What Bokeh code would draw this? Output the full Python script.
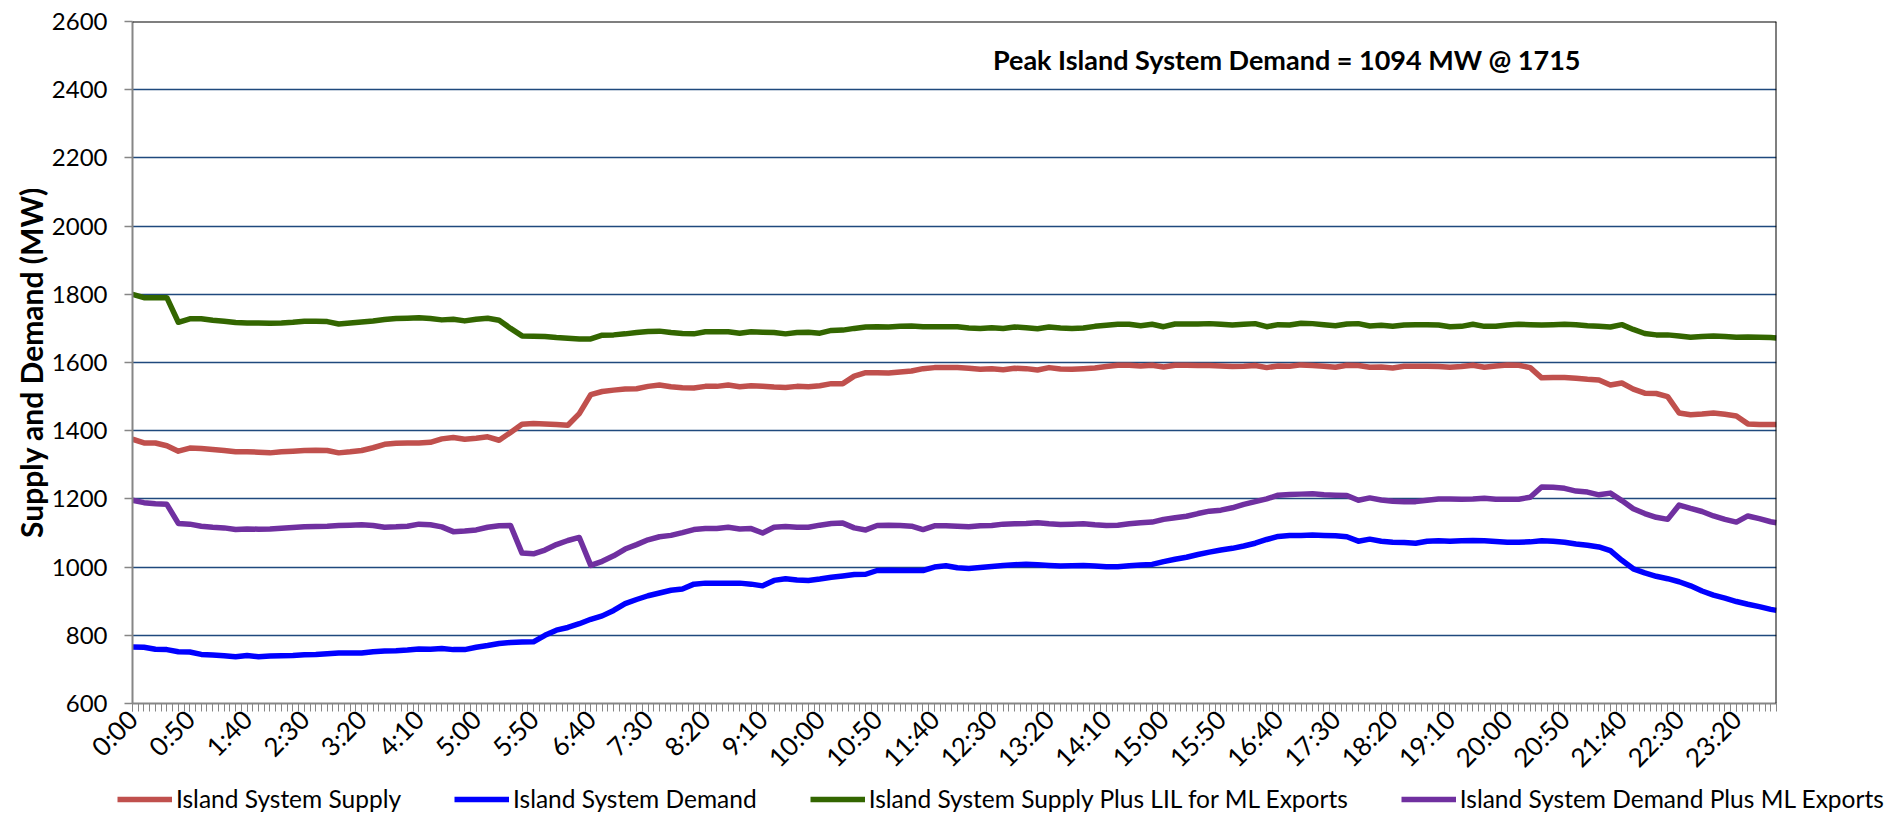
import math
from bokeh.plotting import figure
from bokeh.models import FixedTicker, Range1d, Label, Legend, LegendItem, Span
from bokeh.embed import file_html
from bokeh.resources import INLINE

# ---- data (MW), sampled every 10 minutes from 0:00, plus final 23:55 ----
minutes = list(range(0, 1440, 10)) + [1435]

tick_minutes = list(range(0, 1401, 50))
tick_labels = ["0:00", "0:50", "1:40", "2:30", "3:20", "4:10", "5:00", "5:50", "6:40",
               "7:30", "8:20", "9:10", "10:00", "10:50", "11:40", "12:30", "13:20",
               "14:10", "15:00", "15:50", "16:40", "17:30", "18:20", "19:10", "20:00",
               "20:50", "21:40", "22:30", "23:20"]
y_ticks = [600, 800, 1000, 1200, 1400, 1600, 1800, 2000, 2200, 2400, 2600]

island_supply = [
    1375, 1364, 1364, 1356, 1340, 1349, 1348, 1345, 1342, 1338,
    1338, 1337, 1335, 1338, 1340, 1342, 1343, 1342, 1335, 1338,
    1342, 1350, 1360, 1363, 1364, 1364, 1366, 1376, 1380, 1375,
    1378, 1382, 1372, 1395, 1419, 1421, 1420, 1418, 1416, 1450,
    1506, 1515, 1519, 1522, 1523, 1530, 1534, 1529, 1526, 1525,
    1530, 1530, 1534, 1529, 1532, 1530, 1528, 1527, 1530, 1529,
    1532, 1538, 1538, 1560, 1570, 1570, 1569, 1572, 1575, 1582,
    1585, 1585, 1585, 1583, 1580, 1582, 1579, 1583, 1582, 1578,
    1585, 1581, 1580, 1582, 1584, 1588, 1592, 1592, 1590, 1592,
    1587, 1592, 1592, 1591, 1591, 1590, 1588, 1589, 1591, 1585,
    1590, 1589, 1593, 1591, 1589, 1586, 1592, 1591, 1586, 1587,
    1584, 1589, 1589, 1589, 1588, 1586, 1588, 1592, 1586, 1590,
    1593, 1592, 1585, 1555, 1556, 1556, 1554, 1551, 1549, 1534,
    1540, 1522, 1510, 1509, 1500, 1452, 1447, 1449, 1452, 1448,
    1443, 1420, 1418, 1418, 1418]

island_demand = [
    766, 765, 759, 758, 752, 751, 744, 742, 740, 737,
    741, 737, 739, 740, 741, 743, 744, 746, 748, 748,
    748, 752, 754, 755, 757, 760, 759, 761, 758, 758,
    765, 770, 776, 779, 780, 781, 800, 815, 823, 834,
    847, 857, 873, 893, 905, 916, 924, 932, 936, 950,
    953, 953, 953, 953, 950, 945, 961, 966, 962, 961,
    965, 970, 974, 978, 979, 990, 991, 990, 990, 990,
    1000, 1004, 998, 996, 999, 1002, 1005, 1007, 1008, 1007,
    1005, 1003, 1004, 1005, 1003, 1001, 1001, 1004, 1006, 1008,
    1016, 1023, 1029, 1037, 1044, 1050, 1055, 1062, 1070, 1081,
    1090, 1093, 1093, 1094, 1093, 1092, 1089, 1076, 1082, 1076,
    1073, 1072, 1070, 1076, 1077, 1076, 1077, 1078, 1077, 1075,
    1073, 1073, 1074, 1077, 1076, 1073, 1068, 1064, 1059, 1048,
    1020, 995, 983, 973, 966, 957, 945, 930, 918, 909,
    899, 891, 884, 876, 873]

supply_plus_lil = [
    1800, 1790, 1790, 1790, 1718, 1728, 1728, 1724, 1721, 1717,
    1716, 1716, 1715, 1716, 1718, 1721, 1721, 1720, 1713, 1716,
    1719, 1722, 1726, 1729, 1730, 1731, 1729, 1725, 1727, 1722,
    1727, 1730, 1724, 1700, 1678, 1677, 1676, 1673, 1671, 1669,
    1669, 1680, 1681, 1684, 1688, 1691, 1692, 1688, 1685, 1684,
    1690, 1690, 1690, 1686, 1690, 1689, 1688, 1684, 1688, 1689,
    1686, 1694, 1695, 1700, 1704, 1705, 1704, 1706, 1707, 1705,
    1705, 1705, 1705, 1701, 1700, 1702, 1700, 1704, 1702, 1699,
    1704, 1701, 1700, 1701, 1706, 1709, 1712, 1712, 1708, 1712,
    1705, 1713, 1713, 1713, 1714, 1712, 1710, 1712, 1714, 1705,
    1711, 1710, 1715, 1714, 1711, 1708, 1713, 1714, 1707, 1709,
    1706, 1710, 1711, 1711, 1710, 1705, 1706, 1712, 1706, 1706,
    1710, 1712, 1711, 1710, 1711, 1712, 1711, 1708, 1706, 1704,
    1711, 1697, 1685, 1681, 1681, 1678, 1674, 1676, 1678, 1676,
    1674, 1675, 1674, 1673, 1672]

demand_plus_ml = [
    1196, 1189, 1186, 1184, 1128, 1126, 1120, 1117, 1115, 1110,
    1112, 1111, 1112, 1114, 1116, 1118, 1119, 1120, 1122, 1123,
    1124, 1122, 1117, 1118, 1120, 1126, 1124, 1118, 1104, 1106,
    1109, 1117, 1121, 1122, 1041, 1039, 1050, 1066, 1078, 1087,
    1005, 1017, 1033, 1053, 1066, 1080, 1089, 1093, 1101, 1110,
    1113, 1113, 1117, 1112, 1113, 1100, 1117, 1119, 1117, 1117,
    1123, 1128, 1129, 1115, 1109, 1122, 1123, 1122, 1120, 1110,
    1121, 1121, 1120, 1118, 1121, 1122, 1126, 1127, 1128, 1130,
    1127, 1125, 1126, 1127, 1124, 1122, 1123, 1127, 1130, 1132,
    1140, 1145, 1149, 1157, 1164, 1167, 1174, 1184, 1192, 1200,
    1211, 1213, 1214, 1215, 1212, 1211, 1210, 1196, 1203, 1197,
    1193, 1192, 1192, 1196, 1200, 1200, 1199, 1200, 1202, 1199,
    1199, 1199, 1205, 1235, 1234, 1231, 1223, 1220, 1212, 1217,
    1195, 1171, 1157, 1146, 1140, 1182, 1172, 1163, 1150, 1140,
    1132, 1150, 1142, 1133, 1130]

series_names = ["Island System Supply", "Island System Demand",
                "Island System Supply Plus LIL for ML Exports",
                "Island System Demand Plus ML Exports"]
series_values = [island_supply, island_demand, supply_plus_lil, demand_plus_ml]
series_colors = ["#C0504D", "#0000FF", "#336600", "#7030A0"]

annotation_text = "Peak Island System Demand = 1094 MW @ 1715"

FONT = "Lato"
AXIS_GRAY = "#868686"

p = figure(width=1891, height=787,
           x_range=Range1d(0, 1435), y_range=Range1d(600, 2600),
           output_backend="svg", toolbar_location=None,
           min_border_left=132, min_border_right=115,
           min_border_top=21, min_border_bottom=83,
           background_fill_color="white", border_fill_color="white",
           outline_line_color=None)

# grid
p.xgrid.grid_line_color = None
p.ygrid.ticker = FixedTicker(ticks=y_ticks[1:-1])
p.ygrid.grid_line_color = "#1F497D"
p.ygrid.grid_line_width = 1.6

# x axis
xa = p.xaxis[0]
xa.ticker = FixedTicker(ticks=tick_minutes, minor_ticks=list(range(0, 1436, 5)))
xa.major_label_overrides = {m: lab for m, lab in zip(tick_minutes, tick_labels)}
xa.major_label_orientation = math.pi / 4
xa.axis_line_color = AXIS_GRAY
xa.axis_line_width = 2
xa.major_tick_line_color = AXIS_GRAY
xa.minor_tick_line_color = AXIS_GRAY
xa.major_tick_line_width = 1
xa.minor_tick_line_width = 1
xa.major_tick_in = 0
xa.major_tick_out = 8
xa.minor_tick_in = 0
xa.minor_tick_out = 8
xa.major_label_standoff = 3
xa.major_label_text_font = FONT
xa.major_label_text_font_size = "26px"
xa.major_label_text_color = "black"

# y axis
ya = p.yaxis[0]
ya.ticker = FixedTicker(ticks=y_ticks, minor_ticks=[])
ya.axis_line_color = AXIS_GRAY
ya.axis_line_width = 2
ya.major_tick_line_color = AXIS_GRAY
ya.major_tick_line_width = 1.5
ya.major_tick_in = 0
ya.major_tick_out = 8
ya.minor_tick_line_color = None
ya.major_label_standoff = 17
ya.major_label_text_font = FONT
ya.major_label_text_font_size = "24px"
ya.major_label_text_color = "black"
ya.axis_label = "Supply and Demand (MW)"
ya.axis_label_text_font = FONT
ya.axis_label_text_font_size = "30px"
ya.axis_label_text_font_style = "bold"
ya.axis_label_text_color = "black"
ya.axis_label_standoff = 0

# top and right borders of the plot area
p.add_layout(Span(location=2600, dimension="width", line_color="black", line_width=2))
p.add_layout(Span(location=1435, dimension="height", line_color="black", line_width=2))

for vals, col in zip(series_values, series_colors):
    p.line(minutes, vals, line_color=col, line_width=5.5, line_join="round")

p.add_layout(Label(x=751, y=2490, text=annotation_text, text_font=FONT,
                   text_font_size="27px", text_font_style="bold",
                   text_color="black", text_baseline="alphabetic"))

# ---- legend strip below the chart (series drawn out of view; only legend shows) ----
lg = figure(width=1891, height=32, x_range=Range1d(0, 1435), y_range=Range1d(0, 1),
            output_backend="svg", toolbar_location=None,
            x_axis_type=None, y_axis_type=None,
            min_border_left=0, min_border_right=0, min_border_top=0, min_border_bottom=0,
            background_fill_color="white", border_fill_color="white",
            outline_line_color=None)
lg.xgrid.visible = False
lg.ygrid.visible = False
swatches = [lg.line(minutes, vals, line_color=col, line_width=5.5)
            for vals, col in zip(series_values, series_colors)]
legend = Legend(items=[LegendItem(label=n, renderers=[r]) for n, r in zip(series_names, swatches)],
                location=(117, 6), orientation="horizontal",
                glyph_width=55, glyph_height=24, label_height=24,
                label_standoff=4, padding=0, margin=0, spacing=53,
                border_line_color=None, background_fill_alpha=0,
                label_text_font=FONT, label_text_font_size="24.5px",
                label_text_color="black")
lg.add_layout(legend, "center")

open("out.html", "w").write(file_html([p, lg], INLINE))
